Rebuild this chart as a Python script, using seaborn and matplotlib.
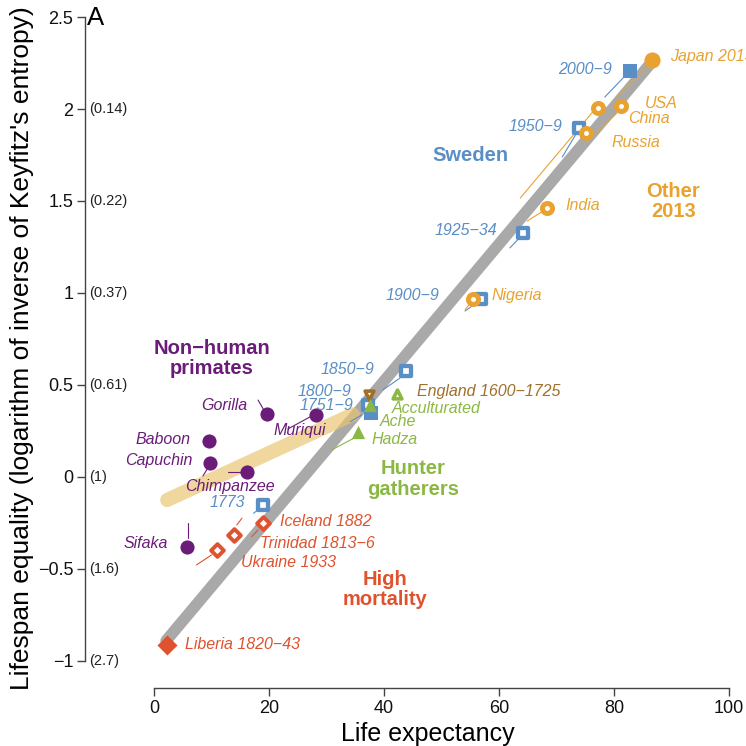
import matplotlib
matplotlib.use("Agg")
import matplotlib.pyplot as plt
import seaborn as sns

# ---- data -------------------------------------------------------------
primate_names = ["Gorilla", "Muriqui", "Baboon", "Capuchin", "Chimpanzee", "Sifaka"]
primate_e0 = [19.6, 28.2, 9.6, 9.7, 16.2, 5.7]
primate_eq = [0.34, 0.337, 0.196, 0.076, 0.027, -0.38]

sweden_names = ["1751\u22129", "1773", "1800\u22129", "1850\u22129", "1900\u22129",
                "1925\u221234", "1950\u22129", "2000\u22129"]
sweden_e0 = [37.8, 18.9, 37.3, 43.9, 56.9, 64.2, 74.0, 82.8]
sweden_eq = [0.35, -0.152, 0.39, 0.576, 0.967, 1.328, 1.895, 2.207]

other_names = ["Nigeria", "India", "Russia", "China", "USA", "Japan 2013"]
other_e0 = [55.5, 68.3, 75.2, 77.2, 81.3, 86.6]
other_eq = [0.966, 1.464, 1.871, 2.004, 2.016, 2.266]

hunter_names = ["Hadza", "Ache", "Acculturated"]
hunter_e0 = [35.5, 37.6, 42.2]
hunter_eq = [0.246, 0.39, 0.45]

england_name = "England 1600\u22121725"
england_e0 = [37.4]
england_eq = [0.445]

mortality_names = ["Liberia 1820\u221243", "Ukraine 1933", "Trinidad 1813\u22126", "Iceland 1882"]
mortality_e0 = [2.2, 10.9, 14.0, 18.9]
mortality_eq = [-0.913, -0.397, -0.315, -0.248]

# trend segments (life expectancy, lifespan equality)
human_trend_e0 = [2.1, 86.3]
human_trend_eq = [-0.89, 2.245]
primate_trend_e0 = [2.3, 34.6]
primate_trend_eq = [-0.125, 0.34]

x_ticks = [0, 20, 40, 60, 80, 100]
y_ticks = [-1, -0.5, 0, 0.5, 1, 1.5, 2, 2.5]
y_tick_labels = ["\u22121", "\u22120.5", "0", "0.5", "1", "1.5", "2", "2.5"]
entropy_ticks = [-1, -0.5, 0, 0.5, 1, 1.5, 2]
entropy_labels = ["(2.7)", "(1.6)", "(1)", "(0.61)", "(0.37)", "(0.22)", "(0.14)"]

# ---- colours ----------------------------------------------------------
PURPLE = "#6B1C78"
BLUE = "#5A8EC6"
ORANGE = "#E9A22F"
RED = "#E0522E"
GREEN = "#8BB843"
BROWN = "#A0702A"
GREY = "#A9A9A9"
TAN = "#E8C46F"

sns.set_theme(style="ticks")
plt.rcParams["font.family"] = ["Liberation Sans", "DejaVu Sans"]

fig = plt.figure(figsize=(7.46, 7.46), dpi=100)
ax = fig.add_axes([85 / 746, 58 / 746, 661 / 746, 680 / 746])
ax.set_xlim(-12, 102.96)
ax.set_ylim(-1.147, 2.549)

# trend bands
ax.plot(human_trend_e0, human_trend_eq, color=GREY, lw=8.3,
        solid_capstyle="round", zorder=2)
ax.plot(primate_trend_e0, primate_trend_eq, color=TAN, lw=10.2, alpha=0.68,
        solid_capstyle="round", zorder=3)

# thin leader lines from labels to their points
leaders = [
    (BLUE, [(78.4, 2.065), (81.9, 2.179)]),
    (BLUE, [(71.0, 1.739), (73.4, 1.864)]),
    (BLUE, [(61.9, 1.245), (63.7, 1.304)]),
    (BLUE, [(54.1, 0.902), (56.3, 0.951)]),
    (BLUE, [(39.8, 0.473), (42.8, 0.538)]),
    (BLUE, [(34.1, 0.300), (36.1, 0.337)]),
    (BLUE, [(17.3, -0.197), (18.1, -0.179)]),
    (ORANGE, [(63.7, 1.516), (76.3, 1.984)]),
    (ORANGE, [(77.0, 1.870), (80.5, 1.978)]),
    (ORANGE, [(80.5, 2.065), (85.7, 2.228)]),
    (ORANGE, [(64.9, 1.391), (67.7, 1.446)]),
    (ORANGE, [(54.1, 0.908), (55.0, 0.946)]),
    (GREEN, [(30.9, 0.147), (34.7, 0.210)]),
    (RED, [(7.4, -0.478), (10.0, -0.424)]),
    (RED, [(14.4, -0.261), (15.3, -0.224)]),
    (RED, [(17.0, -0.324), (18.1, -0.288)]),
    (PURPLE, [(18.1, 0.418), (19.3, 0.353)]),
    (PURPLE, [(23.3, 0.261), (27.1, 0.326)]),
    (PURPLE, [(8.5, 0.005), (9.6, 0.060)]),
    (PURPLE, [(12.9, 0.027), (15.8, 0.027)]),
    (PURPLE, [(5.9, -0.250), (5.9, -0.332)]),
]
for col, seg in leaders:
    (x0, y0), (x1, y1) = seg
    ax.plot([x0, x1], [y0, y1], color=col, lw=0.8, zorder=3)


def pts(x, y, marker, size, face, edge, lw, z=5):
    sns.scatterplot(x=x, y=y, marker=marker, s=size, color=face,
                    edgecolor=edge, linewidth=lw, ax=ax, zorder=z, legend=False)


# non-human primates
pts(primate_e0, primate_eq, "o", 104, PURPLE, PURPLE, 0)

# Sweden: first and last periods filled, others open
sw_open = [i for i in range(len(sweden_e0)) if i not in (0, 7)]
pts([sweden_e0[0]], [sweden_eq[0]], "s", 100, BLUE, BLUE, 0)
pts([sweden_e0[i] for i in sw_open], [sweden_eq[i] for i in sw_open],
    "s", 52, "white", BLUE, 3.1)
pts([sweden_e0[7]], [sweden_eq[7]], "s", 112, BLUE, BLUE, 0)

# other countries 2013
pts(other_e0[:-1], other_eq[:-1], "o", 52, "white", ORANGE, 3.6, z=6)
pts(other_e0[-1:], other_eq[-1:], "o", 135, ORANGE, ORANGE, 0, z=6)

# hunter-gatherers and England
pts(england_e0, england_eq, "v", 40, "white", BROWN, 2.6, z=6)
pts(hunter_e0[:2], hunter_eq[:2], "^", 92, GREEN, GREEN, 0, z=7)
pts(hunter_e0[2:], hunter_eq[2:], "^", 40, "white", GREEN, 2.6, z=7)

# high mortality
pts(mortality_e0[:1], mortality_eq[:1], "D", 104, RED, RED, 0)
pts(mortality_e0[1:], mortality_eq[1:], "D", 42, "white", RED, 2.8)

# ---- point labels ------------------------------------------------------
lab = dict(fontsize=11.5, style="italic", va="center", zorder=8)
sweden_lab_pos = [(34.6, 0.388), (15.8, -0.140), (34.4, 0.464), (38.4, 0.585),
                  (49.6, 0.984), (59.7, 1.342), (71.0, 1.904), (79.7, 2.217)]
for name, (x, y) in zip(sweden_names, sweden_lab_pos):
    ax.text(x, y, name, color=BLUE, ha="right", **lab)

other_lab_pos = [(58.7, 0.985), (71.5, 1.474), (79.5, 1.817), (82.4, 1.949),
                 (85.4, 2.030), (89.7, 2.288)]
for name, (x, y) in zip(other_names, other_lab_pos):
    ax.text(x, y, name, color=ORANGE, ha="left", clip_on=False, **lab)

hunter_lab_pos = [(37.9, 0.205), (39.3, 0.300), (41.3, 0.373)]
for name, (x, y) in zip(hunter_names, hunter_lab_pos):
    ax.text(x, y, name, color=GREEN, ha="left", **lab)
ax.text(45.7, 0.464, england_name, color=BROWN, ha="left", **lab)

mortality_lab_pos = [(5.4, -0.913), (15.1, -0.467), (18.4, -0.364), (21.9, -0.243)]
for name, (x, y) in zip(mortality_names, mortality_lab_pos):
    ax.text(x, y, name, color=RED, ha="left", **lab)

primate_lab_pos = [(16.3, 0.386, "right"), (20.7, 0.250, "left"),
                   (6.4, 0.201, "right"), (6.7, 0.089, "right"),
                   (13.2, -0.053, "center"), (2.4, -0.364, "right")]
for name, (x, y, ha) in zip(primate_names, primate_lab_pos):
    ax.text(x, y, name, color=PURPLE, ha=ha, **lab)

# ---- group labels ------------------------------------------------------
grp = dict(fontsize=14.5, fontweight="bold", ha="center", va="center",
           linespacing=1.1, zorder=8)
ax.text(55.1, 1.746, "Sweden", color=BLUE, **grp)
ax.text(90.3, 1.496, "Other\n2013", color=ORANGE, **grp)
ax.text(10.1, 0.645, "Non\u2212human\nprimates", color=PURPLE, **grp)
ax.text(45.1, -0.012, "Hunter\ngatherers", color=GREEN, **grp)
ax.text(40.2, -0.611, "High\nmortality", color=RED, **grp)

# ---- axes --------------------------------------------------------------
for side in ("top", "right"):
    ax.spines[side].set_visible(False)
ax.spines["left"].set_bounds(-1, 2.5)
ax.spines["bottom"].set_bounds(0, 100)
for side in ("left", "bottom"):
    ax.spines[side].set_color("#444444")
    ax.spines[side].set_linewidth(1.0)

ax.set_xticks(x_ticks)
ax.set_xticklabels([str(t) for t in x_ticks])
ax.set_yticks(y_ticks)
ax.set_yticklabels(y_tick_labels)
ax.tick_params(direction="out", length=5.5, width=1.0, color="#444444",
               labelsize=13, labelcolor="#111111", pad=3)

for y, t in zip(entropy_ticks, entropy_labels):
    ax.text(-11.3, y, t, fontsize=10.5, color="#222222", ha="left", va="center")

ax.text(-11.6, 2.56, "A", fontsize=18.5, ha="left", va="top", color="black")

ax.set_xlabel("Life expectancy", fontsize=18, color="black")
ax.xaxis.set_label_coords(0.519, -0.05)
ax.set_ylabel("Lifespan equality (logarithm of inverse of Keyfitz's entropy)",
              fontsize=19, color="black")
ax.yaxis.set_label_coords(-0.077, 0.5)

fig.savefig("out.png", dpi=100)
